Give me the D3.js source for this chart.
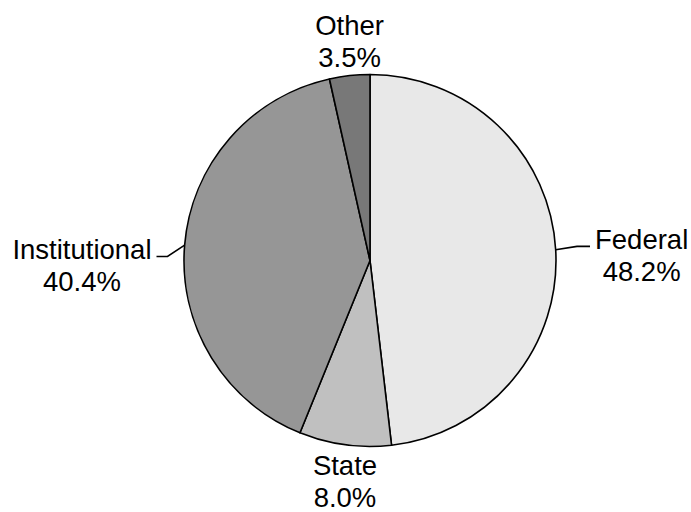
<!DOCTYPE html>
<html><head><meta charset="utf-8">
<script src="https://cdn.jsdelivr.net/npm/d3@7"></script>
<style>body{margin:0;background:#fff}svg{display:block}</style>
</head><body>
<script>
const categories = ["Federal", "State", "Institutional", "Other"];
const values = [48.2, 8.0, 40.4, 3.5];
const fills = ["#e8e8e8", "#c0c0c0", "#969696", "#787878"];

const W = 691, H = 512, cx = 370, cy = 260.5, R = 186;
const svg = d3.select("body").append("svg").attr("width", W).attr("height", H);
const g = svg.append("g").attr("transform", `translate(${cx},${cy})`);
const data = categories.map((c, i) => ({name: c, value: values[i], fill: fills[i]}));
const pie = d3.pie().value(d => d.value).sort(null);
const arcs = pie(data);
const arc = d3.arc().innerRadius(0).outerRadius(R);

g.selectAll("path.slice").data(arcs).join("path")
  .attr("class", "slice")
  .attr("d", arc)
  .attr("fill", d => d.data.fill)
  .attr("stroke", "#000").attr("stroke-width", 1.6).attr("stroke-linejoin", "round");

const fs = 27.5;
const font = "'Liberation Sans', Arial, sans-serif";
arcs.forEach(a => {
  const mid = (a.startAngle + a.endAngle) / 2;
  const ex = R * Math.sin(mid), ey = -R * Math.cos(mid);
  const lines = [a.data.name, a.data.value.toFixed(1) + "%"];
  const t = g.append("text").attr("font-family", font).attr("font-size", fs).attr("fill", "#000");
  const side = Math.abs(Math.sin(mid)) > 0.7;
  if (!side) {
    const lh = 32;
    const top = Math.cos(mid) > 0;
    const y0 = top ? ey - 9 - lh : ey + 30.5;
    lines.forEach((l, i) => t.append("tspan").attr("x", ex).attr("y", y0 + i * lh).attr("text-anchor", "middle").text(l));
  } else {
    const lh = 32.5;
    const right = Math.sin(mid) > 0;
    const dir = right ? 1 : -1;
    const elbowX = dir * (R + (right ? 21 : 16.5));
    const elbowY = ey + (right ? -3.3 : 11.4);
    const endX = elbowX + dir * (right ? 13 : 11);
    g.append("polyline")
      .attr("points", `${ex},${ey} ${elbowX},${elbowY} ${endX},${elbowY}`)
      .attr("fill", "none").attr("stroke", "#000").attr("stroke-width", 1.6);
    const tmp = lines.map(l => {
      const s = g.append("text").attr("font-family", font).attr("font-size", fs).text(l);
      const w = s.node().getComputedTextLength(); s.remove(); return w;
    });
    const mw = Math.max(...tmp);
    const tx = endX + dir * (5 + mw / 2);
    const y0 = elbowY + 2.2;
    lines.forEach((l, i) => t.append("tspan").attr("x", tx).attr("y", y0 + i * lh).attr("text-anchor", "middle").text(l));
  }
});
</script>
</body></html>
